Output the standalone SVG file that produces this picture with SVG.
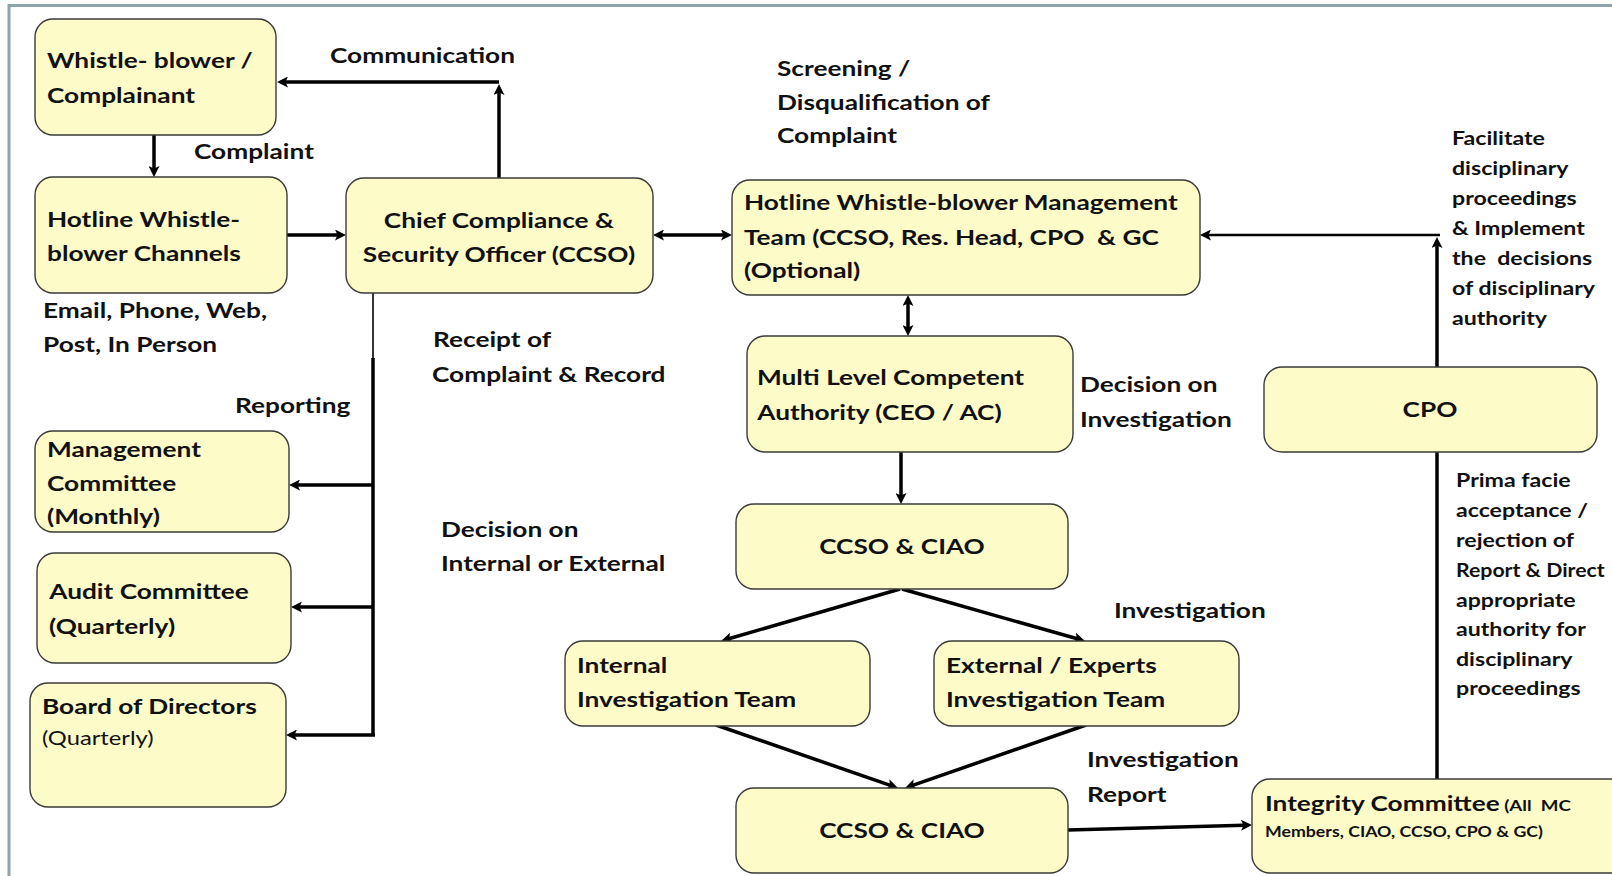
<svg xmlns="http://www.w3.org/2000/svg" width="1612" height="876" viewBox="0 0 1612 876">
<defs>
<style>
.box{fill:#FDFBC8;stroke:#3a3a3a;stroke-width:1.4}
text{font-family:Lato,'Liberation Sans',sans-serif;font-weight:700;fill:#111;font-size:21px;transform-box:fill-box;transform-origin:0 0;transform:scaleX(1.25)}
.s{font-size:18.5px}
.c{text-anchor:middle;transform-origin:50% 0}
.r{font-weight:400;font-size:19px}
.con{fill:none;stroke:#000;stroke-width:3.5}
.thin{fill:none;stroke:#000;stroke-width:1.6}
.frame{fill:none;stroke:#8DA4AD;stroke-width:3}
</style>
<marker id="ah" viewBox="0 0 11 11" markerUnits="userSpaceOnUse" markerWidth="11" markerHeight="11" refX="3" refY="5.5" orient="auto-start-reverse">
<path d="M0,0 L11,5.5 L0,11 L2.5,5.5 z" fill="#000"/>
</marker>
</defs>
<rect width="1612" height="876" fill="#fff"/>
<path class="frame" d="M9,1000 V5.5 H1620"/>

<g id="connectors">
<path class="con" d="M154,135 V169" marker-end="url(#ah)"/>
<path class="con" d="M287,235 H338" marker-end="url(#ah)"/>
<path class="con" d="M499,178 V92" marker-end="url(#ah)"/>
<path class="con" d="M499,82 H285" marker-end="url(#ah)"/>
<path class="con" d="M661,235 H724" marker-start="url(#ah)" marker-end="url(#ah)"/>
<path class="con" d="M908,303 V328" marker-start="url(#ah)" marker-end="url(#ah)"/>
<path class="con" d="M901,452 V496" marker-end="url(#ah)"/>
<path class="con" d="M900,589 L728.7,638.8" marker-end="url(#ah)"/>
<path class="con" d="M902,589 L1077.3,638.8" marker-end="url(#ah)"/>
<path class="con" d="M716,725 L890.4,785.4" marker-end="url(#ah)"/>
<path class="con" d="M1086,725 L912.6,785.4" marker-end="url(#ah)"/>
<path class="con" d="M1068,830 L1244,825.2" marker-end="url(#ah)"/>
<path class="con" d="M1437,779 V452"/>
<path class="con" d="M1437,367 V245" marker-end="url(#ah)"/>
<path class="con" d="M1440,235 H1208" style="stroke-width:2.6" marker-end="url(#ah)"/>
<path class="thin" d="M373,293 V358"/>
<path class="con" d="M373,358 V735"/>
<path class="con" d="M373,485 H297" marker-end="url(#ah)"/>
<path class="con" d="M373,607 H299" marker-end="url(#ah)"/>
<path class="con" d="M375,735 H294" marker-end="url(#ah)"/>
</g>

<g id="whistleblower">
<rect class="box" x="35" y="19" width="241" height="116" rx="18"/>
<text x="47" y="68">Whistle- blower /</text>
<text x="47" y="103">Complainant</text>
</g>
<g id="hotline-channels">
<rect class="box" x="35" y="177" width="252" height="116" rx="18"/>
<text x="47" y="227">Hotline Whistle-</text>
<text x="47" y="261">blower Channels</text>
</g>
<g id="ccso">
<rect class="box" x="346" y="178" width="307" height="115" rx="18"/>
<text class="c" x="499" y="228">Chief Compliance &amp;</text>
<text class="c" x="499" y="262">Security Officer (CCSO)</text>
</g>
<g id="mgmt-team">
<rect class="box" x="732" y="180" width="468" height="115" rx="18"/>
<text x="744" y="210">Hotline Whistle-blower Management</text>
<text x="744" y="245">Team (CCSO, Res. Head, CPO &#160;&amp; GC</text>
<text x="744" y="278">(Optional)</text>
</g>
<g id="multi-level">
<rect class="box" x="747" y="336" width="326" height="116" rx="18"/>
<text x="757" y="385">Multi Level Competent</text>
<text x="757" y="420">Authority (CEO / AC)</text>
</g>
<g id="ccso-ciao-1">
<rect class="box" x="736" y="504" width="332" height="85" rx="18"/>
<text class="c" x="902" y="554">CCSO &amp; CIAO</text>
</g>
<g id="internal-team">
<rect class="box" x="565" y="641" width="305" height="85" rx="18"/>
<text x="577" y="673">Internal</text>
<text x="577" y="707">Investigation Team</text>
</g>
<g id="external-team">
<rect class="box" x="934" y="641" width="305" height="85" rx="18"/>
<text x="946" y="673">External / Experts</text>
<text x="946" y="707">Investigation Team</text>
</g>
<g id="ccso-ciao-2">
<rect class="box" x="736" y="788" width="332" height="85" rx="18"/>
<text class="c" x="902" y="838">CCSO &amp; CIAO</text>
</g>
<g id="cpo">
<rect class="box" x="1264" y="367" width="333" height="85" rx="18"/>
<text class="c" x="1430" y="417">CPO</text>
</g>
<g id="integrity-committee">
<rect class="box" x="1252" y="779" width="380" height="94" rx="18"/>
<text x="1265" y="811">Integrity Committee<tspan style="font-size:15px"> (All &#160;MC</tspan></text>
<text x="1265" y="837" style="font-size:14.2px">Members, CIAO, CCSO, CPO &amp; GC)</text>
</g>
<g id="management-committee">
<rect class="box" x="35" y="431" width="254" height="101" rx="18"/>
<text x="47" y="457">Management</text>
<text x="47" y="491">Committee</text>
<text x="47" y="524">(Monthly)</text>
</g>
<g id="audit-committee">
<rect class="box" x="37" y="553" width="254" height="110" rx="18"/>
<text x="49" y="599">Audit Committee</text>
<text x="49" y="634">(Quarterly)</text>
</g>
<g id="board">
<rect class="box" x="30" y="683" width="256" height="124" rx="18"/>
<text x="42" y="714">Board of Directors</text>
<text class="r" x="42" y="745">(Quarterly)</text>
</g>

<g id="labels">
<text x="330" y="63">Communication</text>
<text x="194" y="159">Complaint</text>
<text x="43" y="318">Email, Phone, Web,</text>
<text x="43" y="352">Post, In Person</text>
<text x="433" y="347">Receipt of</text>
<text x="432" y="382">Complaint &amp; Record</text>
<text x="235" y="413">Reporting</text>
<text x="441" y="537">Decision on</text>
<text x="441" y="571">Internal or External</text>
<text x="777" y="76">Screening /</text>
<text x="777" y="110">Disqualification of</text>
<text x="777" y="143">Complaint</text>
<text x="1080" y="392">Decision on</text>
<text x="1080" y="427">Investigation</text>
<text x="1114" y="618">Investigation</text>
<text x="1087" y="767">Investigation</text>
<text x="1087" y="802">Report</text>
<text class="s" x="1452" y="145">Facilitate</text>
<text class="s" x="1452" y="175">disciplinary</text>
<text class="s" x="1452" y="205">proceedings</text>
<text class="s" x="1452" y="235">&amp; Implement</text>
<text class="s" x="1452" y="265">the &#160;decisions</text>
<text class="s" x="1452" y="295">of disciplinary</text>
<text class="s" x="1452" y="325">authority</text>
<text class="s" x="1456" y="487">Prima facie</text>
<text class="s" x="1456" y="517">acceptance /</text>
<text class="s" x="1456" y="547">rejection of</text>
<text class="s" x="1456" y="577" style="transform:scaleX(1.15)">Report &amp; Direct</text>
<text class="s" x="1456" y="607">appropriate</text>
<text class="s" x="1456" y="636">authority for</text>
<text class="s" x="1456" y="666">disciplinary</text>
<text class="s" x="1456" y="695">proceedings</text>
</g>
</svg>
